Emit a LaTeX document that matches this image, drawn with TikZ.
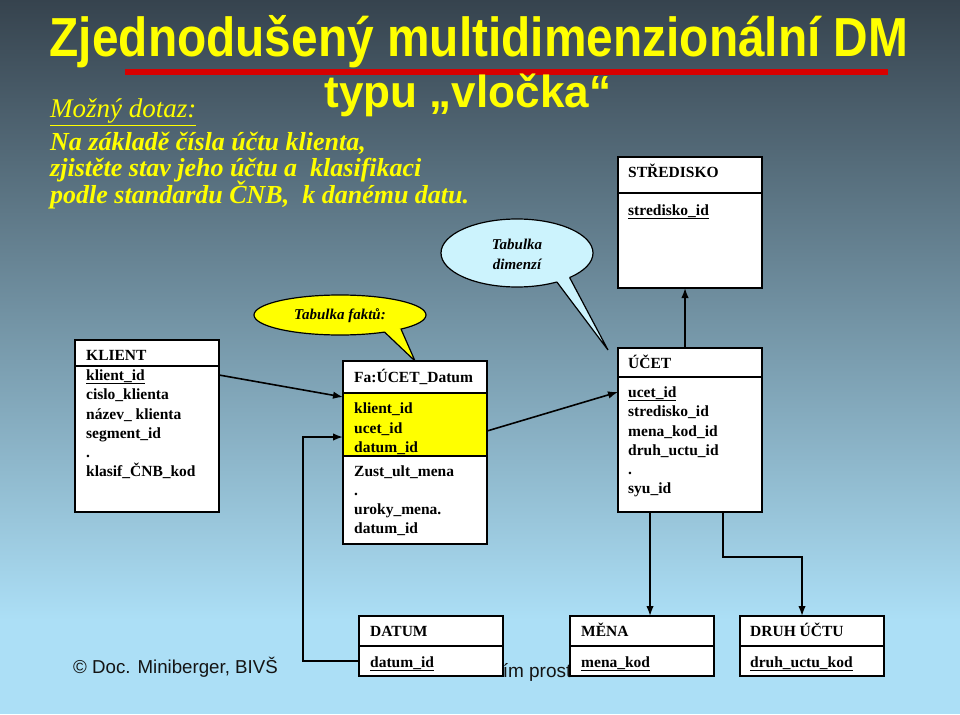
\documentclass[tikz,border=0pt]{standalone}
\usepackage{fontspec}
\usepackage{graphicx}
\setmainfont{Liberation Serif}
\newfontfamily\sansf{Liberation Sans}
\usetikzlibrary{arrows.meta,shapes.geometric}
\definecolor{bgtop}{HTML}{36434E}
\definecolor{bgmid}{HTML}{7595AA}
\definecolor{bgbot}{HTML}{ACDFF6}
\definecolor{ttl}{HTML}{FFFF00}
\definecolor{redline}{HTML}{D80000}
\definecolor{bubcyan}{HTML}{CCF3FD}
\definecolor{bubyel}{HTML}{FFFF00}
\definecolor{keyyel}{HTML}{FFFF00}
\begin{document}
\begin{tikzpicture}[x=1pt,y=-1pt,
  tbl/.style={draw=black, line width=1.3pt, fill=white, inner sep=0, outer sep=0, anchor=north west},
  fld/.style={anchor=base west, inner sep=0, font=\bfseries\fontsize{15.5}{18}\selectfont},
  conn/.style={line width=1.6pt, -{Latex[length=10pt,width=7.5pt]}},
  sepline/.style={line width=1.3pt},
  bub/.style={ellipse, draw=black, line width=1.2pt, inner sep=0, outer sep=0},
  bubtxt/.style={anchor=base, inner sep=0, font=\bfseries\itshape\fontsize{15}{18}\selectfont},
  qtxt/.style={anchor=base west, inner sep=0, text=ttl, font=\bfseries\itshape\fontsize{26}{30}\selectfont},
]
\useasboundingbox (0,0) rectangle (960,714);
\shade[top color=bgtop, middle color=bgmid, bottom color=bgbot] (0,0) rectangle (960,620);
\fill[bgbot] (0,619.5) rectangle (960,714);

% title
\draw[redline, line width=6.5pt] (125,72) -- (888,72);
\node[anchor=base, inner sep=0, text=ttl, font=\sansf\bfseries\fontsize{55}{60}\selectfont] (title1) at (479,57) {\scalebox{0.87}[1]{Zjednodušený multidimenzionální DM}};
\node[anchor=base, inner sep=0, text=ttl, font=\sansf\bfseries\fontsize{45}{50}\selectfont] (title2) at (468,108) {\scalebox{0.98}[1]{typu „vločka“}};

% query
\node[anchor=base west, inner sep=0, text=ttl, font=\itshape\fontsize{27}{30}\selectfont] (q0) at (50,118) {\underline{Možný dotaz:}};
\node[qtxt] (q1) at (50,151) {Na základě čísla účtu klienta,};
\node[qtxt] (q2) at (50,177) {zjistěte stav jeho účtu a\ \ klasifikaci};
\node[qtxt] (q3) at (50,204) {podle standardu ČNB,\ \ k danému datu.};

% footer
\node[anchor=base west, inner sep=0, font=\sansf\fontsize{18.7}{20}\selectfont, text=black!92] (copy) at (73,673) {© Doc. Miniberger, BIVŠ};
\node[anchor=base west, inner sep=0, font=\sansf\fontsize{19}{20}\selectfont, text=black!92] (foot) at (492,677) {ním prost};

% bubble: Tabulka dimenzi
\coordinate (dimtip) at (608,350);
\node[bub, fill=bubcyan, minimum width=152pt, minimum height=68pt] (dimb) at (517,253) {};
\fill[bubcyan] (dimb.-36) -- (dimtip) -- (dimb.-25) -- (555,270) -- cycle;
\draw[line width=1.2pt, line join=miter] (dimb.-36) -- (dimtip) -- (dimb.-25);
\node[bubtxt] (dimt1) at (517,249) {Tabulka};
\node[bubtxt] (dimt2) at (517,269) {dimenzí};

% bubble: Tabulka faktu
\coordinate (faktip) at (415,361);
\node[bub, fill=bubyel, minimum width=172pt, minimum height=40pt] (fakb) at (340,315) {};
\fill[bubyel] (fakb.-21) -- (faktip) -- (fakb.-13) -- (385,322) -- cycle;
\draw[line width=1.2pt, line join=miter] (fakb.-21) -- (faktip) -- (fakb.-13);
\node[bubtxt] (fakt1) at (340,319) {Tabulka faktů:};

% STREDISKO
\node[tbl, minimum width=144pt, minimum height=131pt] (stred) at (618,157) {};
\draw[sepline] (618,193) -- (762,193);
\node[fld] (s1) at (628,178) {STŘEDISKO};
\node[fld] (s2) at (628,215) {\underline{stredisko\_id}};

% KLIENT
\node[tbl, minimum width=144pt, minimum height=172pt] (klient) at (75,340) {};
\draw[sepline] (75,366) -- (219,366);
\node[fld] (k0) at (86,360) {KLIENT};
\node[fld] (k1) at (86,380) {\underline{klient\_id}};
\node[fld] (k2) at (86,399.5) {cislo\_klienta};
\node[fld] (k3) at (86,419) {název\_ klienta};
\node[fld] (k4) at (86,438) {segment\_id};
\node[fld] (k5) at (86,457) {.};
\node[fld] (k6) at (86,476) {klasif\_ČNB\_kod};

% FAKT
\node[tbl, minimum width=144pt, minimum height=183pt] (fakt) at (343,361) {};
\fill[keyyel] (343.6,393) rectangle (486.4,456);
\draw[sepline] (343,393) -- (487,393);
\draw[sepline] (343,456) -- (487,456);
\node[fld] (f0) at (354,382) {Fa:ÚCET\_Datum};
\node[fld] (f1) at (354,413) {klient\_id};
\node[fld] (f2) at (354,433) {ucet\_id};
\node[fld] (f3) at (354,452) {datum\_id};
\node[fld] (f4) at (354,476) {Zust\_ult\_mena};
\node[fld] (f5) at (354,495) {.};
\node[fld] (f6) at (354,514) {uroky\_mena.};
\node[fld] (f7) at (354,533) {datum\_id};

% UCET
\node[tbl, minimum width=144pt, minimum height=164pt] (ucet) at (618,348) {};
\draw[sepline] (618,377) -- (762,377);
\node[fld] (u0) at (628,368) {ÚČET};
\node[fld] (u1) at (628,397) {\underline{ucet\_id}};
\node[fld] (u2) at (628,416.5) {stredisko\_id};
\node[fld] (u3) at (628,436) {mena\_kod\_id};
\node[fld] (u4) at (628,455) {druh\_uctu\_id};
\node[fld] (u5) at (628,474) {.};
\node[fld] (u6) at (628,493) {syu\_id};

% bottom dimension tables
\node[tbl, minimum width=144pt, minimum height=60pt] (datum) at (359,616) {};
\draw[sepline] (359,646) -- (503,646);
\node[fld] (d0) at (370,636) {DATUM};
\node[fld] (d1) at (370,667) {\underline{datum\_id}};

\node[tbl, minimum width=144pt, minimum height=60pt] (mena) at (570,616) {};
\draw[sepline] (570,646) -- (714,646);
\node[fld] (m0) at (581,636) {MĚNA};
\node[fld] (m1) at (581,667) {\underline{mena\_kod}};

\node[tbl, minimum width=144pt, minimum height=60pt] (druh) at (740,616) {};
\draw[sepline] (740,646) -- (884,646);
\node[fld] (r0) at (750,636) {DRUH ÚČTU};
\node[fld] (r1) at (750,667) {\underline{druh\_uctu\_kod}};

% connectors
\draw[conn] ([yshift=-35pt]klient.north east) -- ([yshift=-36pt]fakt.north west);
\draw[conn] ([yshift=-45pt]datum.north west) -- ++(-56,0) |- ([yshift=-76pt]fakt.north west);
\draw[conn] ([yshift=-70pt]fakt.north east) -- ([yshift=-44pt]ucet.north west);
\draw[conn] ([xshift=67pt]ucet.north west) -- ([xshift=67pt]stred.south west);
\draw[conn] ([xshift=32pt]ucet.south west) -- ([xshift=80pt]mena.north west);
\draw[conn] ([xshift=105pt]ucet.south west) -- ++(0,45) -| ([xshift=62pt]druh.north west);
\end{tikzpicture}
\end{document}
